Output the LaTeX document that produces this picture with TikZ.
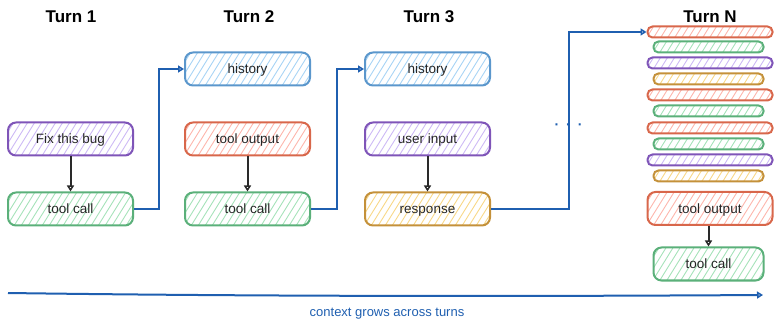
\documentclass[tikz,border=0pt]{standalone}
\usepackage{fontspec}
\setmainfont{Liberation Sans}
\usetikzlibrary{arrows.meta,calc}
\definecolor{bluestroke}{HTML}{5B97CC}
\definecolor{bluefill}{HTML}{A8D4F5}
\definecolor{purplestroke}{HTML}{7F55B8}
\definecolor{purplefill}{HTML}{CDBAF5}
\definecolor{greenstroke}{HTML}{5BB07A}
\definecolor{greenfill}{HTML}{A6E2BA}
\definecolor{redstroke}{HTML}{D8674B}
\definecolor{redfill}{HTML}{FDB6AC}
\definecolor{goldstroke}{HTML}{C4913A}
\definecolor{goldfill}{HTML}{F8D888}
\definecolor{arrowblue}{HTML}{1F5FB0}
\definecolor{arrowdark}{HTML}{2A2A2A}
\tikzset{
  hatch/.style={path picture={
    \foreach \k in {0,7,...,170}{
      \draw[#1,line width=0.9pt]
        ($(path picture bounding box.south west)+(\k pt-30pt,-2pt)$) -- ++(26pt,42pt);
    }}},
  box/.style={draw, rounded corners=8pt, line width=2pt, minimum height=33pt,
    inner sep=0pt, font=\fontsize{13.5}{15}\selectfont, text=black!85,
    text height=11pt, text depth=1pt},
  widebox/.style={box, minimum width=125pt},
  narrowbox/.style={box, minimum width=110pt},
  bar/.style={draw, rounded corners=5pt, line width=2pt, minimum height=11pt, inner sep=0pt},
  widebar/.style={bar, minimum width=125pt},
  narrowbar/.style={bar, minimum width=110pt},
  bluebox/.style={draw=bluestroke, hatch=bluefill},
  purplebox/.style={draw=purplestroke, hatch=purplefill},
  greenbox/.style={draw=greenstroke, hatch=greenfill},
  redbox/.style={draw=redstroke, hatch=redfill},
  goldbox/.style={draw=goldstroke, hatch=goldfill},
  title/.style={font=\fontsize{17}{20}\selectfont\bfseries, text=black},
  darrow/.style={draw=arrowdark, line width=2pt, -{Triangle[open,length=6pt,width=7pt]}},
  barrow/.style={draw=arrowblue, line width=2pt, -{Triangle[open,length=6pt,width=7pt]}},
}
\begin{document}
\begin{tikzpicture}[x=1pt,y=-1pt]
\useasboundingbox (0,0) rectangle (774,323);
% titles
\node[title] (tt1) at (71,17) {Turn 1};
\node[title] (tt2) at (249,17) {Turn 2};
\node[title] (tt3) at (429,17) {Turn 3};
\node[title] (ttn) at (710,17) {Turn N};
% turn 1
\node[widebox,purplebox] (fix) at (70.5,139) {Fix this bug};
\node[widebox,greenbox] (c1) at (70.5,209) {tool call};
% turn 2
\node[widebox,bluebox] (h2) at (247.5,69) {history};
\node[widebox,redbox] (o2) at (247.5,139) {tool output};
\node[widebox,greenbox] (c2) at (247.5,209) {tool call};
% turn 3
\node[widebox,bluebox] (h3) at (427.5,69) {history};
\node[widebox,purplebox] (u3) at (427.5,139) {user input};
\node[widebox,goldbox] (r3) at (427.5,209) {response};
% dots
\node[font=\fontsize{14}{14}\selectfont\bfseries, text=arrowblue] (dots) at (568.5,127) {·\hspace{7pt}·\hspace{7pt}·};
% turn N bars
\node[widebar,redbox] (b1) at (710,32) {};
\node[narrowbar,greenbox] (b2) at (708.5,47) {};
\node[widebar,purplebox] (b3) at (710,63) {};
\node[narrowbar,goldbox] (b4) at (708.5,79) {};
\node[widebar,redbox] (b5) at (710,95) {};
\node[narrowbar,greenbox] (b6) at (708.5,111) {};
\node[widebar,redbox] (b7) at (710,128) {};
\node[narrowbar,greenbox] (b8) at (708.5,144) {};
\node[widebar,purplebox] (b9) at (710,160) {};
\node[narrowbar,goldbox] (b10) at (708.5,176) {};
\node[widebox,redbox] (on) at (710,208.5) {tool output};
\node[narrowbox,greenbox] (cn) at (708.5,264) {tool call};
% dark arrows
\draw[darrow] (fix.south) -- (c1.north);
\draw[darrow] (o2.south) -- (c2.north);
\draw[darrow] (u3.south) -- (r3.north);
\draw[darrow] (on.south -| cn.north) -- (cn.north);
% blue connectors
\draw[barrow] (c1.east) -- ++(25,0) |- (h2.west);
\draw[barrow] (c2.east) -- ++(26,0) |- (h3.west);
\draw[barrow] (r3.east) -- ++(78,0) |- (b1.west);
% bottom arrow
\coordinate (gs) at (8,293);
\coordinate (ge) at (763,295);
\draw[barrow] (gs) .. controls (260,296.5) and (520,296.5) .. (ge);
\node[font=\fontsize{13}{15}\selectfont, text=arrowblue] (glabel) at (387,314) {context grows across turns};
\end{tikzpicture}
\end{document}
